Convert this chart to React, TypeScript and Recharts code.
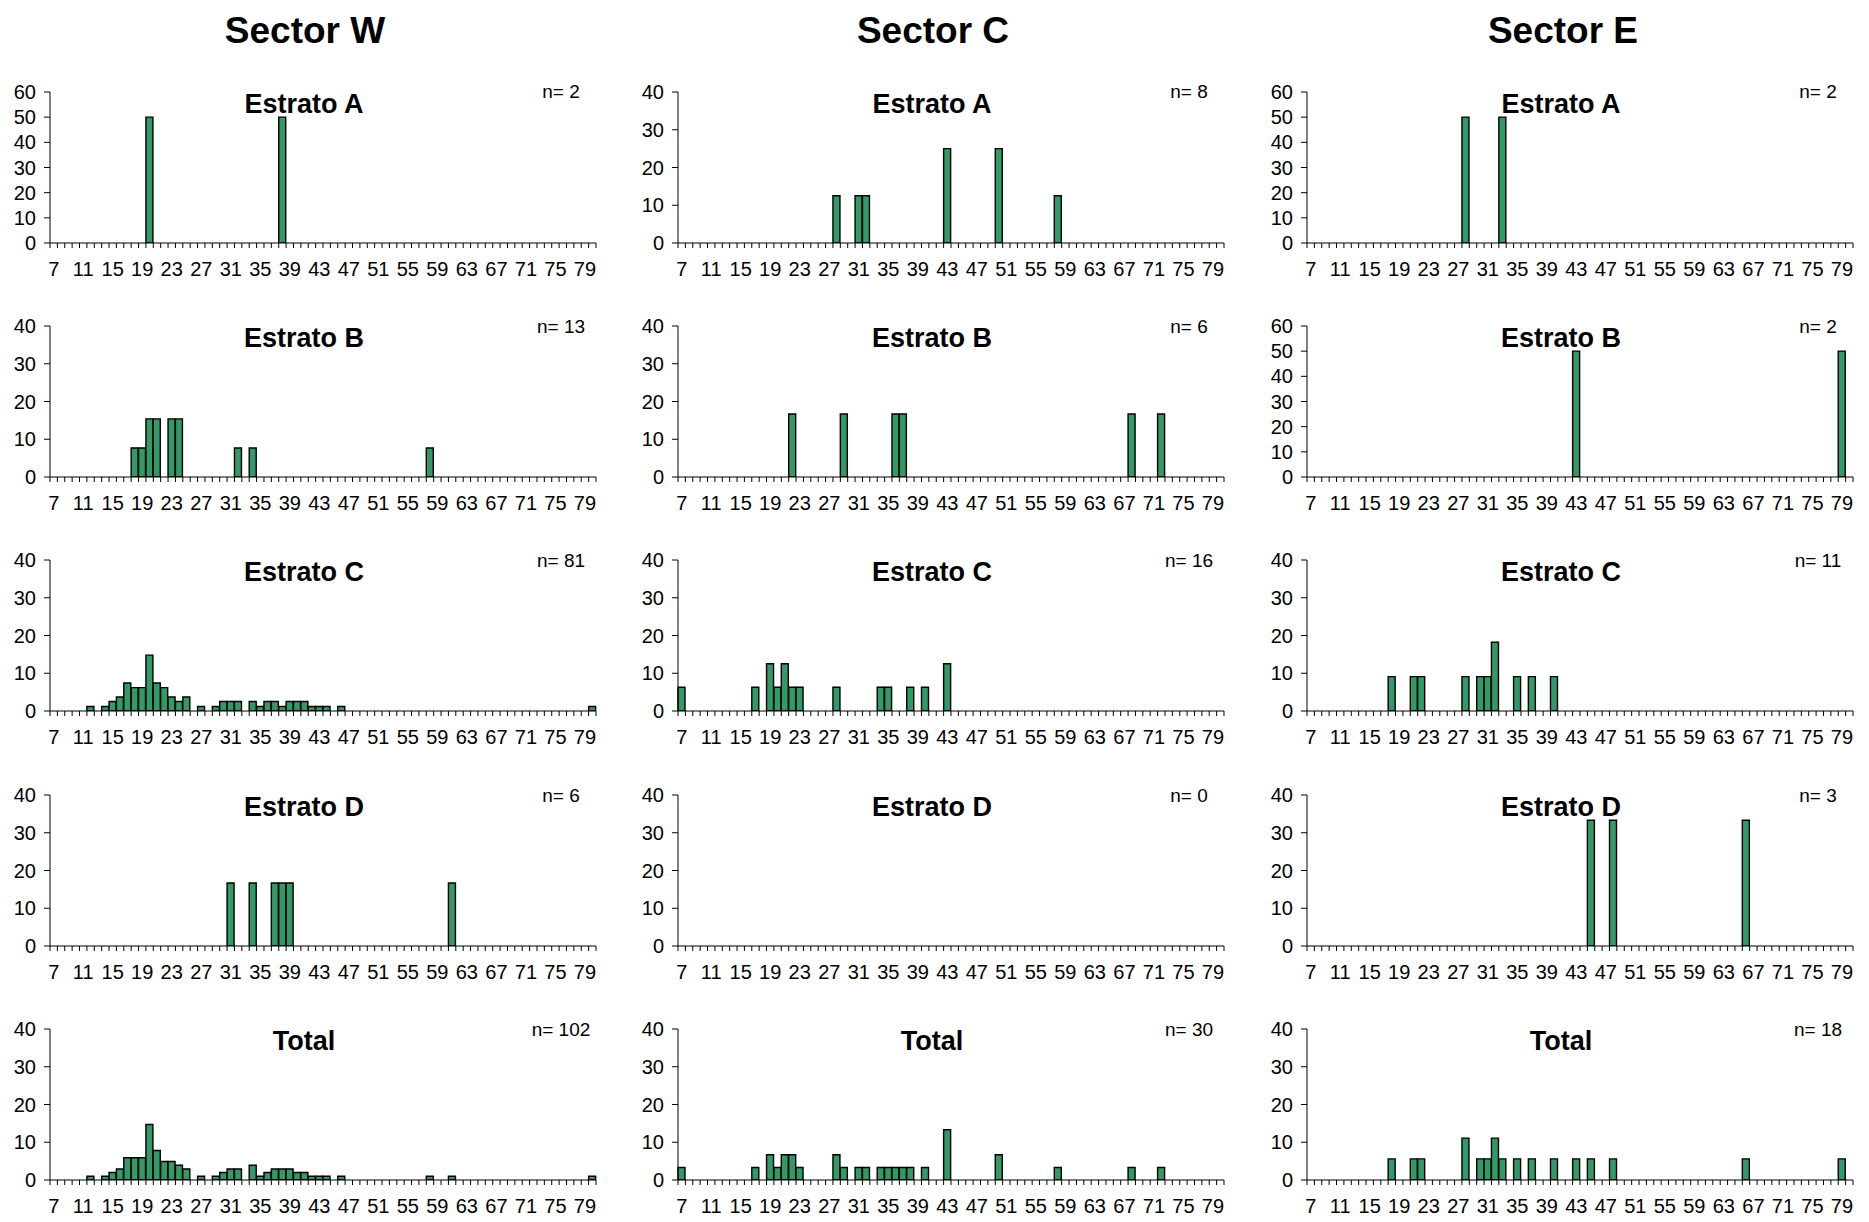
import React from "react";
import { BarChart, Bar, XAxis, YAxis } from "recharts";

// Length classes (cm) on the category axis
const LENGTHS = [
  7, 8, 9, 10, 11, 12, 13, 14, 15, 16, 17, 18, 19, 20, 21, 22, 23, 24, 25, 26,
  27, 28, 29, 30, 31, 32, 33, 34, 35, 36, 37, 38, 39, 40, 41, 42, 43, 44, 45, 46,
  47, 48, 49, 50, 51, 52, 53, 54, 55, 56, 57, 58, 59, 60, 61, 62, 63, 64, 65, 66,
  67, 68, 69, 70, 71, 72, 73, 74, 75, 76, 77, 78, 79, 80,
];

const SECTORS = ["Sector W", "Sector C", "Sector E"];
const STRATA = ["Estrato A", "Estrato B", "Estrato C", "Estrato D", "Total"];

// n per sector, same order as STRATA
const N_W = [2, 13, 81, 6, 102];
const N_C = [8, 6, 16, 0, 30];
const N_E = [2, 2, 11, 3, 18];

// y-axis max per sector, same order as STRATA
const YMAX_W = [60, 40, 40, 40, 40];
const YMAX_C = [40, 40, 40, 40, 40];
const YMAX_E = [60, 60, 40, 40, 40];

// [length, %] pairs, lengths not listed are empty
const W_A = [[20, 50], [38, 50]];
const W_B = [
  [18, 7.7], [19, 7.7], [20, 15.4], [21, 15.4], [23, 15.4], [24, 15.4],
  [32, 7.7], [34, 7.7], [58, 7.7],
];
const W_C = [
  [12, 1.2], [14, 1.2], [15, 2.5], [16, 3.7], [17, 7.4], [18, 6.2], [19, 6.2],
  [20, 14.8], [21, 7.4], [22, 6.2], [23, 3.7], [24, 2.5], [25, 3.7], [27, 1.2],
  [29, 1.2], [30, 2.5], [31, 2.5], [32, 2.5], [34, 2.5], [35, 1.2], [36, 2.5],
  [37, 2.5], [38, 1.2], [39, 2.5], [40, 2.5], [41, 2.5], [42, 1.2], [43, 1.2],
  [44, 1.2], [46, 1.2], [80, 1.2],
];
const W_D = [[31, 16.7], [34, 16.7], [37, 16.7], [38, 16.7], [39, 16.7], [61, 16.7]];
const W_T = [
  [12, 1.0], [14, 1.0], [15, 2.0], [16, 2.9], [17, 5.9], [18, 5.9], [19, 5.9],
  [20, 14.7], [21, 7.8], [22, 4.9], [23, 4.9], [24, 3.9], [25, 2.9], [27, 1.0],
  [29, 1.0], [30, 2.0], [31, 2.9], [32, 2.9], [34, 3.9], [35, 1.0], [36, 2.0],
  [37, 2.9], [38, 2.9], [39, 2.9], [40, 2.0], [41, 2.0], [42, 1.0], [43, 1.0],
  [44, 1.0], [46, 1.0], [58, 1.0], [61, 1.0], [80, 1.0],
];

const C_A = [[28, 12.5], [31, 12.5], [32, 12.5], [43, 25], [50, 25], [58, 12.5]];
const C_B = [[22, 16.7], [29, 16.7], [36, 16.7], [37, 16.7], [68, 16.7], [72, 16.7]];
const C_C = [
  [7, 6.3], [17, 6.3], [19, 12.5], [20, 6.3], [21, 12.5], [22, 6.3], [23, 6.3],
  [28, 6.3], [34, 6.3], [35, 6.3], [38, 6.3], [40, 6.3], [43, 12.5],
];
const C_D: number[][] = [];
const C_T = [
  [7, 3.3], [17, 3.3], [19, 6.7], [20, 3.3], [21, 6.7], [22, 6.7], [23, 3.3],
  [28, 6.7], [29, 3.3], [31, 3.3], [32, 3.3], [34, 3.3], [35, 3.3], [36, 3.3],
  [37, 3.3], [38, 3.3], [40, 3.3], [43, 13.3], [50, 6.7], [58, 3.3], [68, 3.3],
  [72, 3.3],
];

const E_A = [[28, 50], [33, 50]];
const E_B = [[43, 50], [79, 50]];
const E_C = [
  [18, 9.1], [21, 9.1], [22, 9.1], [28, 9.1], [30, 9.1], [31, 9.1], [32, 18.2],
  [35, 9.1], [37, 9.1], [40, 9.1],
];
const E_D = [[45, 33.3], [48, 33.3], [66, 33.3]];
const E_T = [
  [18, 5.6], [21, 5.6], [22, 5.6], [28, 11.1], [30, 5.6], [31, 5.6], [32, 11.1],
  [33, 5.6], [35, 5.6], [37, 5.6], [40, 5.6], [43, 5.6], [45, 5.6], [48, 5.6],
  [66, 5.6], [79, 5.6],
];

const COLUMNS = [
  { series: [W_A, W_B, W_C, W_D, W_T], n: N_W, ymax: YMAX_W },
  { series: [C_A, C_B, C_C, C_D, C_T], n: N_C, ymax: YMAX_C },
  { series: [E_A, E_B, E_C, E_D, E_T], n: N_E, ymax: YMAX_E },
];

// layout
const FONT = "'Liberation Sans', Arial, sans-serif";
const GREEN = "#339966";
const AXIS_X = [50, 678, 1307];
const SECTOR_X = [305, 933, 1563];
const ROW_TOP = [91.7, 326, 560.3, 795, 1029.3];
const PLOT_W = 546;
const PLOT_H = 151;
const Y_AXIS_W = 50;
const X_AXIS_H = 45;
const TOP_PAD = 10;

// empty classes get 0 (a zero-height bar draws nothing), so empty panels keep their axis
function toRows(pairs: number[][]) {
  const map = new Map(pairs.map(([k, v]) => [k, v]));
  return LENGTHS.map((len) => ({ len, pct: map.get(len) ?? 0 }));
}

function yTicks(max: number) {
  const t: number[] = [];
  for (let v = 0; v <= max; v += 10) t.push(v);
  return t;
}

function LengthTick({ x, y, payload }: any) {
  const half = PLOT_W / LENGTHS.length / 2;
  const v = payload.value;
  const last = v === LENGTHS[LENGTHS.length - 1];
  return (
    <g>
      <line x1={x - half} x2={x - half} y1={y} y2={y + 5} stroke="#000" />
      {last && <line x1={x + half} x2={x + half} y1={y} y2={y + 5} stroke="#000" />}
      {(v - 7) % 4 === 0 && (
        <text x={x} y={y + 33} textAnchor="middle" fontSize={20} fontFamily={FONT} fill="#000">
          {v}
        </text>
      )}
    </g>
  );
}

function Panel({ pairs, ymax, left, top }: { pairs: number[][]; ymax: number; left: number; top: number }) {
  return (
    <div style={{ position: "absolute", left, top }}>
      <BarChart
        width={Y_AXIS_W + PLOT_W + 10}
        height={TOP_PAD + PLOT_H + X_AXIS_H}
        data={toRows(pairs)}
        margin={{ top: TOP_PAD, right: 10, bottom: 0, left: 0 }}
        barCategoryGap={0}
        barGap={0}
      >
        <XAxis
          dataKey="len"
          interval={0}
          tickLine={false}
          tickSize={0}
          tickMargin={0}
          height={X_AXIS_H}
          axisLine={{ stroke: "#000" }}
          tick={<LengthTick />}
        />
        <YAxis
          type="number"
          width={Y_AXIS_W}
          domain={[0, ymax]}
          allowDataOverflow
          ticks={yTicks(ymax)}
          interval={0}
          tickSize={6}
          tickMargin={8}
          axisLine={{ stroke: "#000" }}
          tickLine={{ stroke: "#000" }}
          tick={{ fill: "#000", fontSize: 20, fontFamily: FONT }}
        />
        <Bar dataKey="pct" fill={GREEN} stroke="#000" strokeWidth={1.4} isAnimationActive={false} />
      </BarChart>
    </div>
  );
}

export default function App() {
  return (
    <div
      style={{
        position: "absolute",
        left: 0,
        top: 0,
        width: 1869,
        height: 1222,
        background: "#fff",
        fontFamily: FONT,
      }}
    >
      {COLUMNS.map((col, c) =>
        col.series.map((pairs, r) => (
          <Panel
            key={`${c}-${r}`}
            pairs={pairs}
            ymax={col.ymax[r]}
            left={AXIS_X[c] - Y_AXIS_W}
            top={ROW_TOP[r] - TOP_PAD}
          />
        ))
      )}
      <svg
        width={1869}
        height={1222}
        style={{ position: "absolute", left: 0, top: 0, pointerEvents: "none" }}
      >
        {SECTORS.map((s, c) => (
          <text key={s} x={SECTOR_X[c]} y={43} textAnchor="middle" fontSize={37} fontWeight="bold" fontFamily={FONT}>
            {s}
          </text>
        ))}
        {COLUMNS.map((col, c) =>
          STRATA.map((name, r) => (
            <g key={`${c}-${r}`}>
              <text
                x={AXIS_X[c] + 254}
                y={ROW_TOP[r] + 21}
                textAnchor="middle"
                fontSize={27}
                fontWeight="bold"
                fontFamily={FONT}
              >
                {name}
              </text>
              <text x={AXIS_X[c] + 511} y={ROW_TOP[r] + 6.6} textAnchor="middle" fontSize={19} fontFamily={FONT}>
                {`n= ${col.n[r]}`}
              </text>
            </g>
          ))
        )}
      </svg>
    </div>
  );
}
